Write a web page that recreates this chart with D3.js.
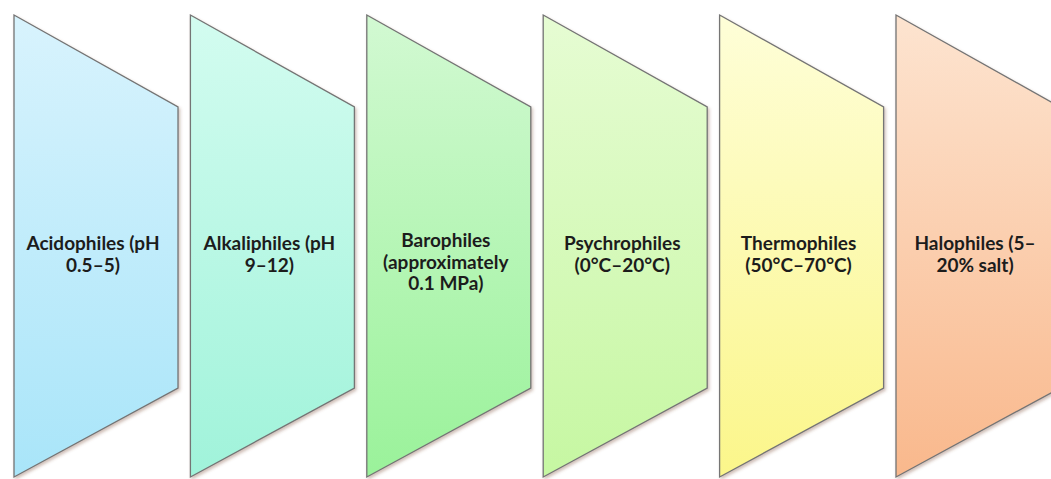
<!DOCTYPE html>
<html>
<head>
<meta charset="utf-8">
<script src="https://cdn.jsdelivr.net/npm/d3@7"></script>
<style>
  html, body { margin: 0; padding: 0; background: #ffffff; }
  svg { display: block; }
</style>
</head>
<body>
<svg id="chart" width="1051" height="479"></svg>
<script>
// Extremophile groups and the range each one tolerates
const groups = ["Acidophiles", "Alkaliphiles", "Barophiles", "Psychrophiles", "Thermophiles", "Halophiles"];
const labelLines = [
  ["Acidophiles (pH", "0.5–5)"],
  ["Alkaliphiles (pH", "9–12)"],
  ["Barophiles", "(approximately", "0.1 MPa)"],
  ["Psychrophiles", "(0°C–20°C)"],
  ["Thermophiles", "(50°C–70°C)"],
  ["Halophiles (5–", "20% salt)"]
];
const topColors = ["#d8f3fd", "#d3fcf0", "#d2f9d2", "#e6fcd3", "#fefed8", "#fde4d0"];
const bottomColors = ["#a9e5f9", "#a0f3da", "#9af29a", "#c6f7a2", "#fbf68a", "#f9b88c"];

const svg = d3.select("#chart");

// Horizontal placement of the panels
const x = d3.scaleBand()
  .domain(groups)
  .range([14, 1060])
  .paddingInner(0.0703)
  .paddingOuter(0);

// Vertical extents: tall left edge, short right edge
const leftTop = 15, leftBottom = 477;
const rightTop = 107, rightBottom = 388;

const defs = svg.append("defs");

groups.forEach((g, i) => {
  const grad = defs.append("linearGradient")
    .attr("id", "grad" + i)
    .attr("x1", 0).attr("y1", 0).attr("x2", 0).attr("y2", 1);
  grad.append("stop").attr("offset", "0%").attr("stop-color", topColors[i]);
  grad.append("stop").attr("offset", "100%").attr("stop-color", bottomColors[i]);
});

const shadow = defs.append("filter")
  .attr("id", "shadow")
  .attr("x", "-10%").attr("y", "-10%").attr("width", "130%").attr("height", "130%");
shadow.append("feDropShadow")
  .attr("dx", 1.5).attr("dy", 2)
  .attr("stdDeviation", 1.5)
  .attr("flood-color", "#7a4a30")
  .attr("flood-opacity", 0.35);

const panel = svg.selectAll("g.panel")
  .data(groups)
  .join("g")
  .attr("class", "panel");

panel.append("path")
  .attr("d", d => {
    const x0 = x(d), x1 = x(d) + x.bandwidth();
    const p = d3.path();
    p.moveTo(x0, leftTop);
    p.lineTo(x1, rightTop);
    p.lineTo(x1, rightBottom);
    p.lineTo(x0, leftBottom);
    p.closePath();
    return p.toString();
  })
  .attr("fill", (d, i) => `url(#grad${i})`)
  .attr("stroke", "#747474")
  .attr("stroke-width", 1.3)
  .attr("filter", "url(#shadow)");

const lineH = 21.5;
panel.append("text")
  .attr("text-anchor", "middle")
  .attr("font-family", "Lato, 'Open Sans', sans-serif")
  .attr("font-weight", 700)
  .attr("font-size", 19)
  .attr("fill", "#1c1c1c")
  .each(function (d, i) {
    const lines = labelLines[i];
    const cx = x(d) + x.bandwidth() / 2 - 3;
    const firstBaseline = lines.length === 3 ? 247 : 250;
    d3.select(this).selectAll("tspan")
      .data(lines)
      .join("tspan")
      .attr("x", cx)
      .attr("y", (t, k) => firstBaseline + k * lineH)
      .text(t => t);
  });
</script>
</body>
</html>
